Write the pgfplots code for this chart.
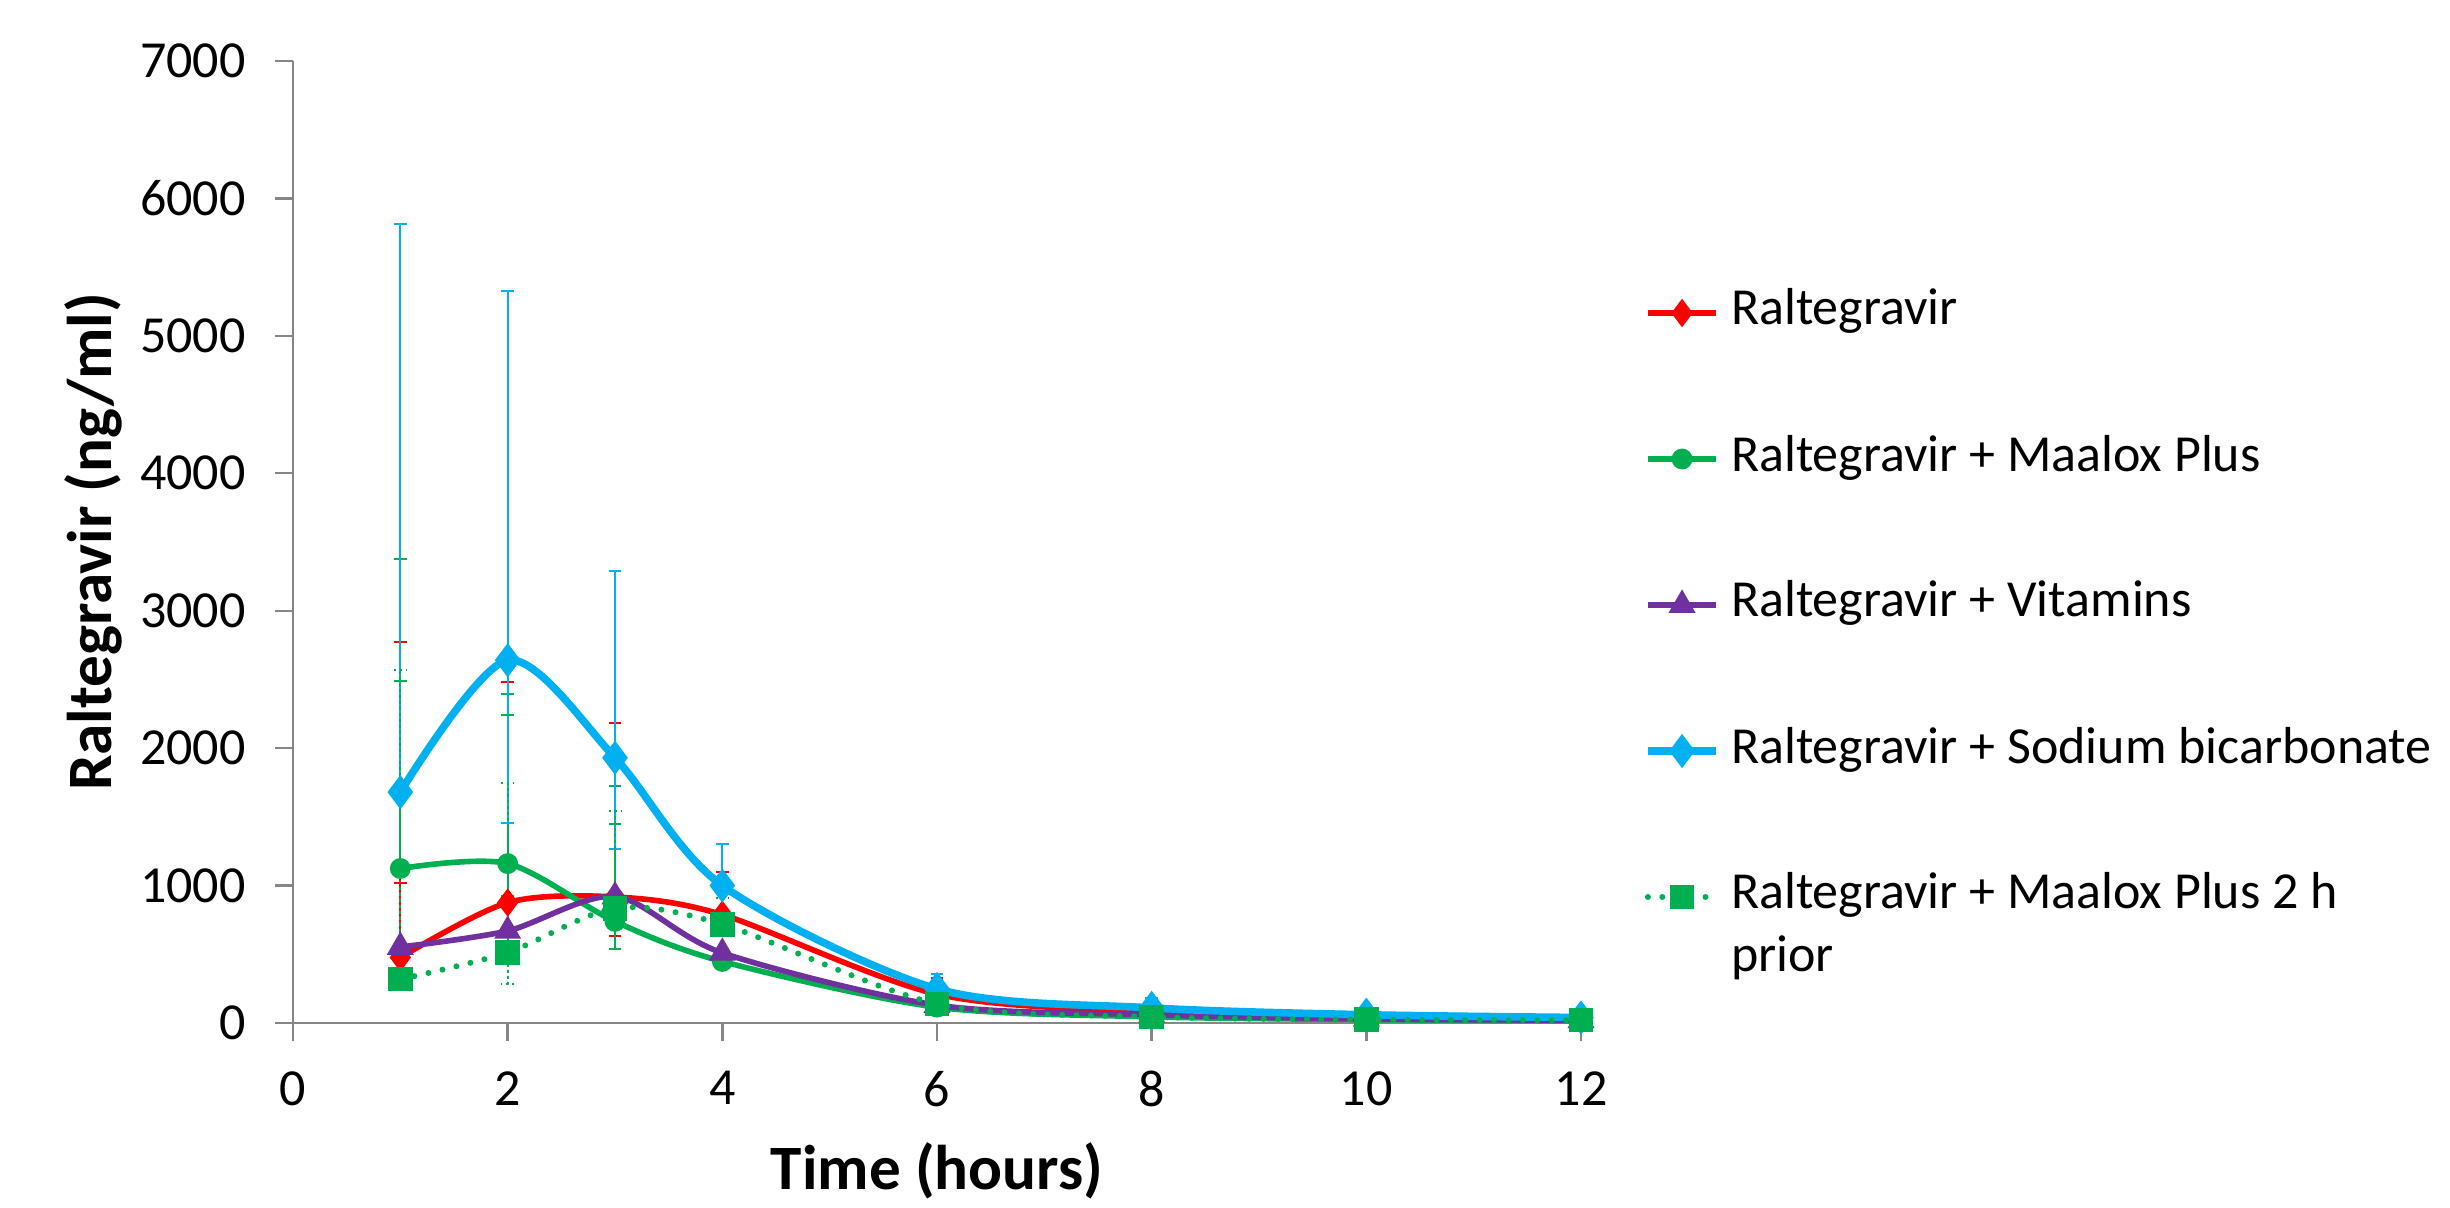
\documentclass[border=0pt]{standalone}
\usepackage{fontspec}
\setmainfont{Carlito}
\usepackage{pgfplots}
\pgfplotsset{compat=1.18}
\definecolor{cRed}{HTML}{FF0000}
\definecolor{cGreen}{HTML}{00B050}
\definecolor{cPurple}{HTML}{7030A0}
\definecolor{cBlue}{HTML}{00B0F0}
\definecolor{cAxis}{HTML}{868686}
\begin{document}
\begin{tikzpicture}
\path[use as bounding box] (-73.25pt,-46.25pt) rectangle (539.25pt,255.75pt);
\begin{axis}[
  at={(0,0)}, anchor=south west,
  scale only axis, width=322pt, height=240.5pt,
  xmin=0, xmax=12, ymin=0, ymax=7000,
  xtick={0,2,...,12}, ytick={0,1000,...,7000},
  axis lines=left,
  axis line style={cAxis, line width=0.6pt, -},
  tick style={cAxis, line width=0.6pt},
  tick align=outside, major tick length=4.4pt,
  /pgf/number format/assume math mode=true,
  /pgf/number format/1000 sep={},
  ticklabel style={font=\fontsize{13}{15}\selectfont, inner sep=0pt},
  yticklabel style={anchor=east, xshift=-7.25pt},
  xticklabel style={anchor=north, yshift=-7.5pt},
  xlabel={Time (hours)}, ylabel={Raltegravir (ng/ml)},
  every axis x label/.style={at={(axis description cs:0.5,-0.154)}, anchor=center,
    font=\bfseries\fontsize{15.8}{19}\selectfont},
  every axis y label/.style={at={(axis description cs:-0.155,0.5)}, rotate=90, anchor=center,
    font=\bfseries\fontsize{15.8}{19}\selectfont},
  legend cell align=left,
  legend style={draw=none, fill=none, at={(1.049,0.763)}, anchor=north west,
    inner sep=0pt, outer sep=0pt, row sep=24.5pt, column sep=2.75pt,
    font=\fontsize{13}{15.6}\selectfont,
    nodes={inner sep=0pt, text height=9pt, text depth=3pt}},
  clip=false,
]
% Raltegravir
\addplot[cRed, line width=1.4pt, smooth, mark=diamond*, mark size=2.4pt,
  mark options={solid, fill=cRed},
  error bars/.cd, y dir=both, y explicit,
  error bar style={line width=0.5pt, solid},
  error mark options={rotate=90, mark size=1.6pt, line width=0.5pt, cRed}]
coordinates {
 (1,477)  += (0,2295) -= (0,0)
 (2,876)  += (0,1604) -= (0,0)
 (3,917)  += (0,1268) -= (0,286)
 (4,788)  += (0,312)  -= (0,155)
 (6,210)  += (0,120)  -= (0,0)
 (8,80)   += (0,0)    -= (0,0)
 (10,40)  += (0,0)    -= (0,0)
 (12,25)  += (0,0)    -= (0,0)
};
\addlegendentry{Raltegravir}
% Raltegravir + Maalox Plus
\addplot[cGreen, line width=1.4pt, smooth, mark=*, mark size=1.9pt,
  mark options={solid, fill=cGreen},
  error bars/.cd, y dir=both, y explicit,
  error bar style={line width=0.5pt, solid},
  error mark options={rotate=90, mark size=1.6pt, line width=0.5pt, cGreen}]
coordinates {
 (1,1124) += (0,2250) -= (0,0)
 (2,1160) += (0,1236) -= (0,239)
 (3,739)  += (0,987)  -= (0,202)
 (4,448)  += (0,0)    -= (0,0)
 (6,115)  += (0,0)    -= (0,0)
 (8,45)   += (0,0)    -= (0,0)
 (10,25)  += (0,0)    -= (0,0)
 (12,15)  += (0,0)    -= (0,0)
};
\addlegendentry{Raltegravir + Maalox Plus}
% Raltegravir + Vitamins
\addplot[cPurple, line width=1.4pt, smooth, mark=triangle*, mark size=2.5pt,
  mark options={solid, fill=cPurple}]
coordinates {
 (1,553) (2,670) (3,920) (4,510) (6,130) (8,60) (10,30) (12,20)
};
\addlegendentry{Raltegravir + Vitamins}
% Raltegravir + Sodium bicarbonate
\addplot[cBlue, line width=1.9pt, smooth, mark=diamond*, mark size=2.7pt,
  mark options={solid, fill=cBlue},
  error bars/.cd, y dir=both, y explicit,
  error bar style={line width=0.5pt, solid},
  error mark options={rotate=90, mark size=1.6pt, line width=0.5pt, cBlue}]
coordinates {
 (1,1680) += (0,4136) -= (0,0)
 (2,2640) += (0,2685) -= (0,1185)
 (3,1930) += (0,1360) -= (0,663)
 (4,1000) += (0,299)  -= (0,0)
 (6,248)  += (0,112)  -= (0,0)
 (8,110)  += (0,70)   -= (0,0)
 (10,60)  += (0,55)   -= (0,0)
 (12,40)  += (0,50)   -= (0,0)
};
\addlegendentry{Raltegravir + Sodium bicarbonate}
% Raltegravir + Maalox Plus 2 h prior
\addplot[cGreen, line width=1.5pt, smooth, line cap=round, dash pattern=on 0pt off 3.6pt,
  mark=square*, mark size=2.3pt, mark options={solid, fill=cGreen},
  error bars/.cd, y dir=both, y explicit,
  error bar style={line width=0.5pt, densely dotted},
  error mark options={rotate=90, mark size=1.6pt, line width=0.5pt, cGreen, densely dotted}]
coordinates {
 (1,318)  += (0,2249) -= (0,0)
 (2,513)  += (0,1235) -= (0,230)
 (3,834)  += (0,711)  -= (0,0)
 (4,718)  += (0,191)  -= (0,0)
 (6,140)  += (0,0)    -= (0,0)
 (8,45)   += (0,0)    -= (0,0)
 (10,25)  += (0,0)    -= (0,0)
 (12,20)  += (0,0)    -= (0,0)
};
\addlegendentry{\begin{tabular}[t]{@{}l@{}}Raltegravir + Maalox Plus 2 h\\prior\end{tabular}}
% extra error-bar caps
\addplot[cRed, only marks, mark=-, mark size=1.6pt, line width=0.5pt, forget plot]
coordinates {(1,1017)};
\addplot[cGreen, only marks, mark=-, mark size=1.6pt, line width=0.5pt, forget plot]
coordinates {(1,2490) (2,2241) (3,1445)};
\end{axis}
\end{tikzpicture}
\end{document}
